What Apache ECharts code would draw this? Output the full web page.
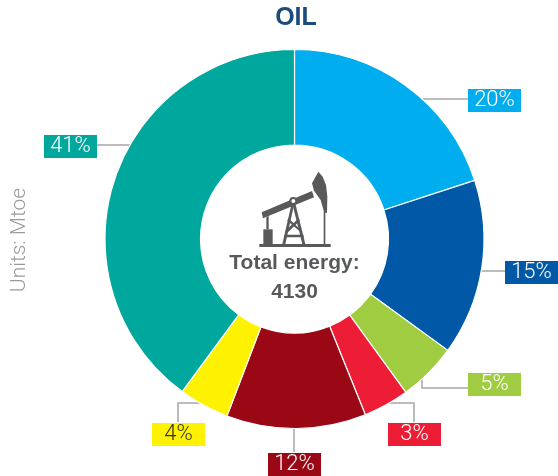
<!DOCTYPE html>
<html><head><meta charset="utf-8">
<style>html,body{margin:0;padding:0;background:#fff}#c{width:558px;height:476px}</style>
<script src="https://cdn.jsdelivr.net/npm/echarts@6/dist/echarts.min.js"></script>
</head><body><div id="c"></div>
<script>
const categories = ['a','b','c','d','e','f','g'];
const shares = [20, 15, 5, 3.9, 11.9, 4.3, 39.9];
const shareLabels = ['20%','15%','5%','3%','12%','4%','41%'];
const colors = ['#00AEEF','#0058A6','#A0CC42','#EE1D36','#9A0816','#FFF200','#00A79D'];
const labelColors = ['#fff','#fff','#fff','#fff','#fff','#333','#fff'];
const titleText = 'OIL';
const unitText = 'Units: Mtoe';
const centerLabel = 'Total energy:';
const centerValue = '4130';

// label box left/top and leader polyline
const boxes = [[468,88],[505,260],[468,372],[388,422],[268,452],[152,422],[44,134]];
const leaders = [
  [[423,99],[423,99],[468,99]],
  [[481,271],[481,271],[505,271]],
  [[422,378],[422,388],[468,388]],
  [[388,403],[414,403],[414,422]],
  [[294,428],[294,428],[294,452]],
  [[200,403],[178,403],[178,422]],
  [[130,145],[130,145],[97,145]]
];
const iconGrey = '#58595B';

const chart = echarts.init(document.getElementById('c'), null, {renderer:'canvas'});
const poly = (points) => ({type:'polygon', shape:{points}, style:{fill:iconGrey}});
chart.setOption({
  animation:false,
  backgroundColor:'#fff',
  title:{text:titleText,left:291,top:1,textAlign:'center',
    textStyle:{fontFamily:'Liberation Sans',fontWeight:'bold',fontSize:25,color:'#1B4A7C'}},
  series:[{
    type:'pie', center:[294.5,239], radius:[94,189.5], startAngle:90, clockwise:true,
    silent:true, avoidLabelOverlap:false,
    itemStyle:{borderColor:'#fff',borderWidth:1.2},
    data:categories.map((n,i)=>({
      name:n,value:shares[i],
      itemStyle:{color:colors[i]},
      label:{rich:{t:{
        color:labelColors[i],backgroundColor:colors[i],
        width:53,height:23,lineHeight:25,align:'center',verticalAlign:'middle',
        fontFamily:'Roboto',fontWeight:300,fontSize:22
      }}}
    })),
    label:{
      show:true,position:'outside',
      formatter:p=>'{t|'+shareLabels[p.dataIndex]+'}',
      padding:0
    },
    labelLine:{show:true,lineStyle:{color:'#A6A6A6',width:1.5}},
    labelLayout:p=>({
      x:boxes[p.dataIndex][0],y:boxes[p.dataIndex][1],
      align:'left',verticalAlign:'top',
      labelLinePoints:leaders[p.dataIndex]
    })
  }],
  graphic:[
    {type:'text',x:20,y:240,rotation:Math.PI/2,originX:0,originY:0,
      style:{text:unitText,fontFamily:'Roboto',fontWeight:300,fontSize:21,fill:'#9A9A9A',
        align:'center',verticalAlign:'middle'}},
    {type:'text',x:294.5,y:263,style:{text:centerLabel,fontFamily:'Liberation Sans',fontWeight:'bold',
      fontSize:21,fill:iconGrey,align:'center',verticalAlign:'middle'}},
    {type:'text',x:294.5,y:292,style:{text:centerValue,fontFamily:'Liberation Sans',fontWeight:'bold',
      fontSize:21,fill:iconGrey,align:'center',verticalAlign:'middle'}},
    {type:'group',x:190,y:150,scaleX:1/3,scaleY:1/3,children:[
      poly([[208,282],[422,282],[422,291],[208,291]]),
      poly([[220,238],[248,238],[248,282],[220,282]]),
      poly([[229,200],[236,198],[236,238],[229,238]]),
      poly([[215,187],[366,123],[372,142],[219,205]]),
      poly([[366,100],[385,65],[398,80],[408,105],[412,140],[411,190],[402,186],[392,150],[372,122]]),
      poly([[401,185],[406,185],[406,282],[401,282]]),
      poly([[304,165],[312,165],[286,282],[277,282]]),
      poly([[308,165],[317,165],[346,282],[337,282]]),
      poly([[295,205],[333,240],[336,250],[292,212]]),
      poly([[326,205],[330,212],[288,252],[286,242]]),
      poly([[284,254],[340,254],[342,262],[282,262]]),
      {type:'circle',shape:{cx:310,cy:153,r:12},style:{fill:iconGrey}},
      {type:'circle',shape:{cx:310,cy:153,r:6},style:{fill:'#fff'}}
    ]}
  ]
});
</script></body></html>
